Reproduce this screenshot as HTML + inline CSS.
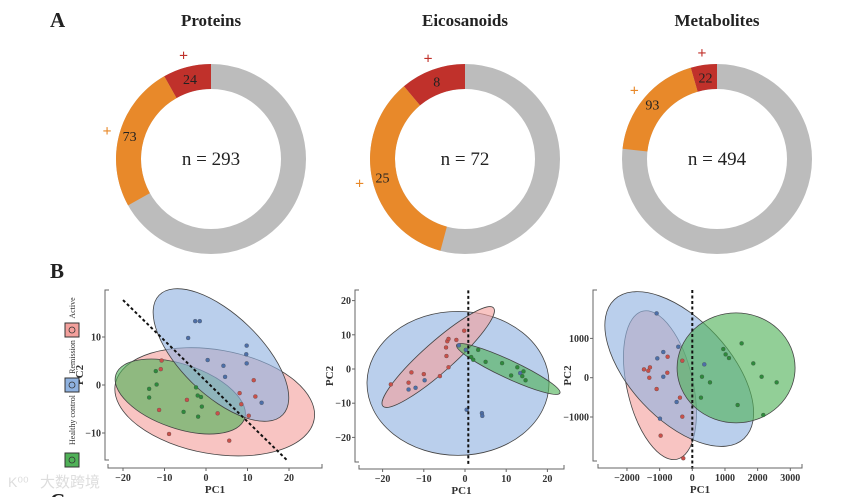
<!DOCTYPE html>
<html><head><meta charset="utf-8">
<style>
html,body{margin:0;padding:0;background:#fff;}
svg{display:block;font-family:"Liberation Serif","Noto Serif CJK SC",serif;}
</style></head>
<body>
<svg id="fig" width="865" height="497" viewBox="0 0 865 497" xmlns="http://www.w3.org/2000/svg">
<text x="50" y="27" font-size="21" font-weight="bold" fill="#222">A</text>
<text x="50" y="278" font-size="21" font-weight="bold" fill="#222">B</text>
<text x="50" y="508" font-size="21" font-weight="bold" fill="#222">C</text>
<g id="donuts"></g>
<g id="pca"></g>
<text x="40" y="487" font-size="15" fill="#ddd" font-family="'Noto Sans CJK SC',sans-serif">大数跨境</text>
<text x="8" y="487" font-size="14" fill="#ddd" font-family="'Liberation Sans',sans-serif">K⁰⁰</text>
</svg>
<script>
// ---------- Donut data ----------
const donutTitles = ["Proteins","Eicosanoids","Metabolites"];
const donutTotals = [293,72,494];
const donutRed = [24,8,22];
const donutOrange = [73,25,93];

// ---------- PCA data: Proteins ----------
const p1RedX = [-10.7,-10.9,-11.3,-8.9,-4.6,2.8,5.6,8.1,8.5,11.5,11.9,10.3];
const p1RedY = [5.1,3.3,-5.2,-10.2,-3.1,-5.9,-11.6,-1.7,-4.0,1.0,-2.4,-6.4];
const p1BlueX = [-2.6,-1.5,-4.3,0.4,4.2,4.6,9.8,9.7,9.8,13.4];
const p1BlueY = [13.3,13.3,9.8,5.2,4.0,1.7,8.2,6.4,4.5,-3.7];
const p1GreenX = [-12.1,-11.9,-13.7,-13.7,-2.4,-2.0,-1.2,-1.0,-5.4,-1.9];
const p1GreenY = [2.9,0.1,-0.8,-2.6,-0.5,-2.2,-2.5,-4.5,-5.6,-6.6];
// ---------- PCA data: Eicosanoids ----------
const p2RedX = [-18.0,-13.7,-13.0,-10.0,-6.1,-4.0,-4.5,-4.6,-4.3,-4.0,-2.1,-0.2];
const p2RedY = [-4.5,-4.0,-1.0,-1.5,-2.1,0.5,3.8,6.3,8.1,8.8,8.5,11.2];
const p2BlueX = [-13.7,-12.0,-9.8,-1.5,0.2,0.4,4.1,4.2,13.4];
const p2BlueY = [-6.0,-5.5,-3.3,6.9,5.6,-11.9,-12.9,-13.7,-1.2];
const p2GreenX = [3.2,1.5,2.0,5.0,9.0,11.2,12.7,14.2,13.9,14.7];
const p2GreenY = [5.6,3.5,2.7,2.1,1.7,-1.9,0.5,-0.7,-2.1,-3.3];
// ---------- PCA data: Metabolites ----------
const p3RedX = [-1480,-1347,-1296,-1316,-755,-765,-306,-1092,-378,-306,-969,-276];
const p3RedY = [212,178,263,0,534,127,432,-288,-508,-992,-1475,-2050];
const p3BlueX = [-1092,-888,-1071,-888,-429,-480,-990,367];
const p3BlueY = [1636,653,492,25,788,-619,-1042,339];
const p3GreenX = [949,1020,1122,1510,1867,2122,2582,1388,265,541,296,2173];
const p3GreenY = [729,593,500,873,364,25,-119,-695,-508,-119,25,-949];
// tick labels
const p1XTicks = [-20,-10,0,10,20];
const p1YTicks = [-10,0,10];
const p2XTicks = [-20,-10,0,10,20];
const p2YTicks = [-20,-10,0,10,20];
const p3XTicks = [-2000,-1000,0,1000,2000,3000];
const p3YTicks = [-1000,0,1000];
const legendLabels = ["Active","Remission","Healthy control"];

const NS="http://www.w3.org/2000/svg";
function mk(tag,attrs,parent){const e=document.createElementNS(NS,tag);for(const k in attrs)e.setAttribute(k,attrs[k]);parent.appendChild(e);return e;}

// ---------- Donuts ----------
const dg=document.getElementById('donuts');
const dCx=[211,465,717], dCy=159, rO=95, rI=70;
function pt(cx,cy,r,a){return [cx+r*Math.sin(a), cy-r*Math.cos(a)];}
function arc(cx,cy,a0,a1){
  const large=Math.abs(a1-a0)>Math.PI?1:0;
  const sw=a1>a0?1:0;
  const p0=pt(cx,cy,rO,a0),p1=pt(cx,cy,rO,a1),q1=pt(cx,cy,rI,a1),q0=pt(cx,cy,rI,a0);
  return `M${p0[0]},${p0[1]} A${rO},${rO} 0 ${large} ${sw} ${p1[0]},${p1[1]} L${q1[0]},${q1[1]} A${rI},${rI} 0 ${large} ${1-sw} ${q0[0]},${q0[1]} Z`;
}
donutTitles.forEach((t,i)=>{
  const cx=dCx[i], tot=donutTotals[i];
  const g=mk('g',{},dg);
  
  
  const title=mk('text',{x:cx,y:26,'text-anchor':'middle','font-size':17,'font-weight':'bold',fill:'#222'},g);
  title.textContent=t;
  
  
  const aR=-2*Math.PI*donutRed[i]/tot;
  const aO=aR-2*Math.PI*donutOrange[i]/tot;
  const gray=mk('circle',{cx:cx,cy:dCy,r:(rO+rI)/2,fill:'none',stroke:'#bcbcbc','stroke-width':rO-rI},g);
  
  
  const red=mk('path',{d:arc(cx,dCy,0,aR),fill:'#c0312b'},g);
  
  
  const or=mk('path',{d:arc(cx,dCy,aR,aO),fill:'#e8892a'},g);
  
  
  const mR=pt(cx,dCy,(rO+rI)/2,aR/2), mO=pt(cx,dCy,(rO+rI)/2+2,(aR+aO)/2);
  const lr=mk('text',{x:mR[0],y:mR[1]+5,'text-anchor':'middle','font-size':14,fill:'#222'},g);
  lr.textContent=donutRed[i];
  
  
  const lo=mk('text',{x:mO[0],y:mO[1]+5,'text-anchor':'middle','font-size':14,fill:'#222'},g);
  lo.textContent=donutOrange[i];
  
  
  const pR=pt(cx,dCy,108,aR/2), pO=pt(cx,dCy,108,(aR+aO)/2);
  const plr=mk('text',{x:pR[0],y:pR[1]+6,'text-anchor':'middle','font-size':16,'font-weight':'bold',fill:'#c0312b'},g);
  plr.textContent='+';
  
  
  const plo=mk('text',{x:pO[0],y:pO[1]+6,'text-anchor':'middle','font-size':16,'font-weight':'bold',fill:'#e8892a'},g);
  plo.textContent='+';
  
  
  const n=mk('text',{x:cx,y:dCy+6,'text-anchor':'middle','font-size':19,fill:'#222'},g);
  n.textContent='n = '+tot;
  
  
});

// ---------- PCA panels ----------
const pg=document.getElementById('pca');
const panels=[
 {name:'proteins',x0:206,xs:4.15,y0:385,ys:4.8,ax:105,ay:468,yTop:290,yBot:460,xL:108,xR:322,xt:p1XTicks,yt:p1YTicks,
  red:[p1RedX,p1RedY],blue:[p1BlueX,p1BlueY],green:[p1GreenX,p1GreenY],
  ell:[{c:'red',cx:2.1,cy:-3.5,rx:101,ry:52,a:10},{c:'green',cx:-6.2,cy:-2.4,rx:68,ry:32,a:19},{c:'blue',cx:3.6,cy:6.25,rx:86,ry:40,a:44}],
  dash:[-20,17.7,19.8,-15.9]},
 {name:'eicosanoids',x0:465,xs:4.12,y0:369,ys:3.42,ax:355,ay:469,yTop:290,yBot:462,xL:359,xR:564,xt:p2XTicks,yt:p2YTicks,
  red:[p2RedX,p2RedY],blue:[p2BlueX,p2BlueY],green:[p2GreenX,p2GreenY],
  ell:[{c:'blue',cx:-1.7,cy:-4.2,rx:91,ry:72,a:0},{c:'red',cx:-6.5,cy:3.5,rx:74,ry:15,a:-41.6},{c:'green',cx:10.5,cy:0,rx:57,ry:9,a:25}],
  dash:[0.8,23,0.8,-28]},
 {name:'metabolites',x0:692.3,xs:0.03267,y0:377.7,ys:0.0393,ax:593,ay:468,yTop:290,yBot:461,xL:598,xR:802,xt:p3XTicks,yt:p3YTicks,
  red:[p3RedX,p3RedY],blue:[p3BlueX,p3BlueY],green:[p3GreenX,p3GreenY],
  ell:[{c:'red',cx:-990,cy:-190,rx:33,ry:76,a:-13},{c:'blue',cx:-400,cy:220,rx:95,ry:50,a:47},{c:'green',cx:1340,cy:250,rx:59,ry:55,a:0}],
  dash:[0,2230,0,-2350]}
];
const fills={red:'#f3a09c',blue:'#8fb2e0',green:'#4fb157'};
const dots={red:'#c8504a',blue:'#4d6fa8',green:'#2e8a3c'};
panels.forEach(P=>{
  const sx=v=>P.x0+P.xs*v, sy=v=>P.y0-P.ys*v;
  const g=mk('g',{},pg);
  
  
  P.ell.forEach(E=>{
    const e=mk('ellipse',{cx:0,cy:0,rx:E.rx,ry:E.ry,fill:fills[E.c],'fill-opacity':0.62,stroke:'#444','stroke-width':0.8,
      transform:`translate(${sx(E.cx)},${sy(E.cy)}) rotate(${E.a})`},g);
    
    
  });
  ['red','blue','green'].forEach(k=>{
    const [xs,ys]=P[k];
    xs.forEach((x,i)=>{
      const c=mk('circle',{cx:sx(x),cy:sy(ys[i]),r:2,fill:dots[k],stroke:'#444','stroke-width':0.3},g);
      
      
    });
  });
  const d=P.dash;
  const dl=mk('line',{x1:sx(d[0]),y1:sy(d[1]),x2:sx(d[2]),y2:sy(d[3]),stroke:'#111','stroke-width':2,'stroke-dasharray':'3,2.5'},g);
  
  
  const ya=mk('path',{d:`M${P.ax+4},${P.yTop}H${P.ax}V${P.yBot}H${P.ax+4}`,fill:'none',stroke:'#666','stroke-width':1},g);
  
  
  const xa=mk('path',{d:`M${P.xL},${P.ay-4}V${P.ay}H${P.xR}V${P.ay-4}`,fill:'none',stroke:'#666','stroke-width':1},g);
  
  
  P.xt.forEach(v=>{
    mk('line',{x1:sx(v),x2:sx(v),y1:P.ay,y2:P.ay+3,stroke:'#666'},g);
    const t=mk('text',{x:sx(v),y:P.ay+13,'text-anchor':'middle','font-size':10,'font-weight':'bold',fill:'#333'},g);
    t.textContent=v<0?'\u2212'+(-v):v;
    
    
  });
  P.yt.forEach(v=>{
    mk('line',{x1:P.ax-3,x2:P.ax,y1:sy(v),y2:sy(v),stroke:'#666'},g);
    const t=mk('text',{x:P.ax-4,y:sy(v)+3.5,'text-anchor':'end','font-size':10,'font-weight':'bold',fill:'#333'},g);
    t.textContent=v<0?'\u2212'+(-v):v;
    
    
  });
  const xl=mk('text',{x:(P.xL+P.xR)/2,y:P.ay+25,'text-anchor':'middle','font-size':11,'font-weight':'bold',fill:'#333'},g);
  xl.textContent='PC1';
  
  
  const yx=P.ax-22, yy=(P.yTop+P.yBot)/2;
  const yl=mk('text',{x:yx,y:yy,'text-anchor':'middle','font-size':11,'font-weight':'bold',fill:'#333',transform:`rotate(-90 ${yx} ${yy})`},g);
  yl.textContent='PC2';
  
  
});

// ---------- legend ----------
const lgY=[330,385,460], lgTextY=[308,357,420];
const lgCol=['red','blue','green'];
legendLabels.forEach((l,i)=>{
  const g=mk('g',{},pg);
  
  
  mk('rect',{x:65,y:lgY[i]-7,width:14,height:14,fill:fills[lgCol[i]],stroke:'#333','stroke-width':1},g);
  mk('circle',{cx:72,cy:lgY[i],r:3,fill:'none',stroke:'#333','stroke-width':0.8},g);
  const t=mk('text',{x:72,y:lgTextY[i],'text-anchor':'middle','font-size':8,fill:'#333',transform:`rotate(-90 72 ${lgTextY[i]}) translate(0 3)`},g);
  t.textContent=l;
  
  
});
</script>
</body></html>
